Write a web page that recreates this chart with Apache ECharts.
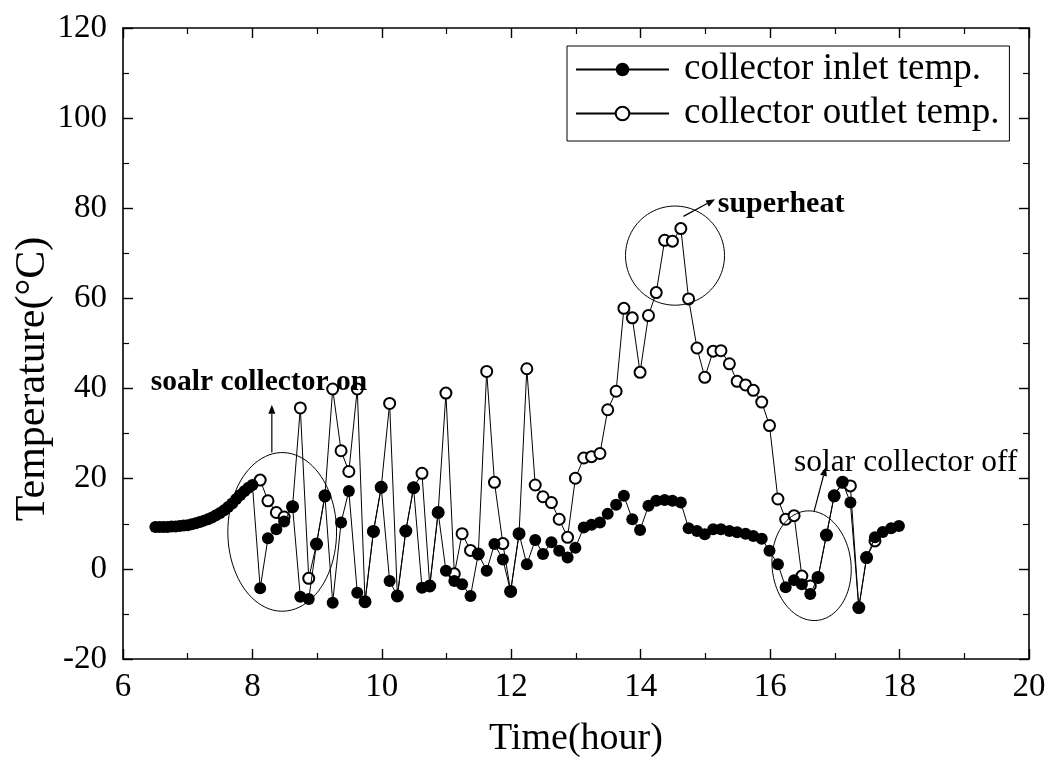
<!DOCTYPE html>
<html>
<head>
<meta charset="utf-8">
<script src="https://cdn.jsdelivr.net/npm/echarts@6/dist/echarts.min.js"></script>
<style>
html,body{margin:0;padding:0;background:#fff;}
#chart{width:1052px;height:757px;}
</style>
</head>
<body>
<div id="chart"></div>
<script>
// ---- data ----
const hours = [
  6.5,6.5625,6.625,6.6875,6.75,6.8125,6.875,6.9375,7.0,7.0625,7.125,7.1875,7.25,
  7.3125,7.375,7.4375,7.5,7.5625,7.625,7.6875,7.75,7.8125,7.875,7.9375,8.0,
  8.12,8.24,8.37,8.49,8.62,8.74,8.87,8.99,
  9.12,9.24,9.37,9.49,9.62,9.74,9.87,9.99,
  10.12,10.24,10.37,10.49,10.62,10.74,10.87,10.99,
  11.12,11.24,11.37,11.49,11.62,11.74,11.87,11.99,
  12.12,12.24,12.37,12.49,12.62,12.74,12.87,12.99,
  13.12,13.24,13.37,13.49,13.62,13.74,13.87,13.99,
  14.12,14.24,14.37,14.49,14.62,14.74,14.87,14.99,
  15.12,15.24,15.37,15.49,15.62,15.74,15.87,15.99,
  16.12,16.24,16.37,16.49,16.62,16.74,16.87,16.99,
  17.12,17.24,17.37,17.49,17.62,17.74,17.87,17.99
];
const inletTemp = [
  9.3,9.3,9.3,9.3,9.4,9.4,9.5,9.6,9.7,9.9,10.1,10.4,10.7,
  11.0,11.4,11.9,12.4,13.0,13.7,14.5,15.5,16.4,17.2,18.0,18.6,
  -4.3,6.8,8.8,10.5,13.8,-6.2,-6.7,5.5,
  16.2,-7.5,10.3,17.3,-5.3,-7.3,8.3,18.1,
  -2.7,-6.0,8.4,18.0,-4.2,-3.8,12.5,-0.4,
  -2.7,-3.4,-6.0,3.3,-0.4,5.5,2.1,-5.0,
  7.8,1.0,6.4,3.3,5.9,4.0,2.5,4.7,
  9.2,9.8,10.3,12.2,14.2,16.2,11.0,8.6,
  14.0,15.1,15.3,15.1,14.7,9.0,8.4,7.7,
  8.8,8.8,8.4,8.1,7.8,7.3,6.7,4.0,
  1.0,-4.1,-2.5,-3.4,-5.6,-1.9,7.5,16.2,
  19.2,14.7,-8.6,2.5,7.0,8.2,9.0,9.5
];
const outletTemp = [
  null,null,null,null,null,null,null,null,null,null,null,null,null,
  null,null,null,null,null,null,null,null,null,null,null,null,
  19.7,15.1,12.5,11.5,13.8,35.7,-2.1,5.5,
  16.2,39.9,26.2,21.6,39.9,-7.3,8.3,18.1,
  36.7,-6.0,8.4,18.0,21.2,-3.8,12.5,39.0,
  -1.1,7.8,4.1,3.3,43.8,19.2,5.6,-5.0,
  7.8,44.4,18.6,16.0,14.7,11.0,7.0,20.1,
  24.6,24.9,25.6,35.3,39.4,57.8,55.7,43.6,
  56.2,61.3,72.9,72.7,75.5,59.9,49.0,42.5,
  48.3,48.4,45.5,41.6,40.8,39.6,37.0,31.8,
  15.5,11.0,11.8,-1.6,-3.8,-1.9,7.5,16.2,
  19.2,18.4,-8.6,2.5,6.2,null,null,null
];
const xTicks = [6, 8, 10, 12, 14, 16, 18, 20];
const yTicks = [-20, 0, 20, 40, 60, 80, 100, 120];
const seriesNames = ['collector inlet temp.', 'collector outlet temp.'];

// ---- chart ----
const FONT = 'Liberation Serif';
const chart = echarts.init(document.getElementById('chart'), null, {renderer: 'canvas'});

const inletData = hours.map((h, i) => [h, inletTemp[i]]);
const outletData = hours.map((h, i) => [h, outletTemp[i]]).filter(p => p[1] !== null);

function baseAxis(show) {
  return {
    axisLine: {show: true, onZero: false, lineStyle: {color: '#000', width: 1.6}},
    axisTick: {show: true, inside: true, length: 10, lineStyle: {color: '#000', width: 1.4}},
    minorTick: {show: true, splitNumber: 2, length: 6, lineStyle: {color: '#000', width: 1.2}},
    splitLine: {show: false},
    axisLabel: {show: show, color: '#000', fontFamily: FONT, fontSize: 33}
  };
}

const option = {
  animation: false,
  backgroundColor: '#fff',
  grid: {left: 123, right: 23, top: 28, bottom: 98, containLabel: false, outerBoundsMode: 'none'},
  xAxis: [
    Object.assign(baseAxis(true), {
      type: 'value', min: xTicks[0], max: xTicks[xTicks.length - 1], interval: 2,
      position: 'bottom',
      name: 'Time(hour)', nameLocation: 'middle', nameGap: 61,
      nameTextStyle: {color: '#000', fontFamily: FONT, fontSize: 38}
    }, {axisLabel: {show: true, color: '#000', fontFamily: FONT, fontSize: 33, margin: 12}}),
    Object.assign(baseAxis(false), {
      type: 'value', min: xTicks[0], max: xTicks[xTicks.length - 1], interval: 2, position: 'top'
    })
  ],
  yAxis: [
    Object.assign(baseAxis(true), {
      type: 'value', min: yTicks[0], max: yTicks[yTicks.length - 1], interval: 20, position: 'left'
    }, {axisLabel: {show: true, color: '#000', fontFamily: FONT, fontSize: 33, margin: 16}}),
    Object.assign(baseAxis(false), {
      type: 'value', min: yTicks[0], max: yTicks[yTicks.length - 1], interval: 20, position: 'right'
    })
  ],
  legend: {
    left: 567, top: 46, orient: 'vertical',
    data: seriesNames,
    itemWidth: 93, itemHeight: 17, itemGap: 7,
    padding: [5, 10, 9, 8],
    borderColor: '#000', borderWidth: 1,
    textStyle: {color: '#000', fontFamily: FONT, fontSize: 37, padding: [0, 0, 0, 10]}
  },
  series: [
    {
      name: seriesNames[1], type: 'line', data: outletData,
      symbol: 'emptyCircle', symbolSize: 11,
      itemStyle: {color: '#000', borderColor: '#000', borderWidth: 1.2},
      lineStyle: {color: '#000', width: 1},
      z: 2
    },
    {
      name: seriesNames[0], type: 'line', data: inletData,
      symbol: 'circle', symbolSize: 12,
      itemStyle: {color: '#000'},
      lineStyle: {color: '#000', width: 1},
      z: 3
    }
  ]
};
chart.setOption(option);

// ---- annotations, positioned in data space ----
function px(x, y) { return chart.convertToPixel({gridIndex: 0}, [x, y]); }
function ellipse(cx, cy, rx, ry, rotDeg) {
  const c = px(cx, cy);
  const a = px(cx + rx, cy)[0] - c[0];
  const b = c[1] - px(cx, cy + ry)[1];
  const r = rotDeg * Math.PI / 180;
  const pts = [];
  for (let i = 0; i <= 90; i++) {
    const t = i / 90 * Math.PI * 2;
    const ex = a * Math.cos(t), ey = b * Math.sin(t);
    pts.push([c[0] + ex * Math.cos(r) - ey * Math.sin(r), c[1] + ex * Math.sin(r) + ey * Math.cos(r)]);
  }
  return {type: 'polyline', shape: {points: pts}, style: {stroke: '#000', lineWidth: 1, fill: null}, silent: true, z: 10};
}
function arrow(x1, y1, x2, y2) {
  const p1 = px(x1, y1), p2 = px(x2, y2);
  const ang = Math.atan2(p2[1] - p1[1], p2[0] - p1[0]);
  const L = 9, W = 3.5;
  const bx = p2[0] - L * Math.cos(ang), by = p2[1] - L * Math.sin(ang);
  const head = [
    p2,
    [bx + W * Math.sin(ang), by - W * Math.cos(ang)],
    [bx - W * Math.sin(ang), by + W * Math.cos(ang)]
  ];
  return [
    {type: 'line', shape: {x1: p1[0], y1: p1[1], x2: bx, y2: by}, style: {stroke: '#000', lineWidth: 1.2}, silent: true, z: 10},
    {type: 'polygon', shape: {points: head}, style: {fill: '#000'}, silent: true, z: 10}
  ];
}
function label(x, y, text, size, weight) {
  const p = px(x, y);
  return {type: 'text', x: p[0], y: p[1], z: 10, silent: true,
    style: {text: text, fill: '#000', font: weight + ' ' + size + 'px "' + FONT + '"', textAlign: 'left', textVerticalAlign: 'middle'}};
}

const graphics = [];
graphics.push(ellipse(8.46, 8.2, 0.84, 17.6, 0));
graphics.push(...arrow(8.30, 25.8, 8.30, 36.4));
graphics.push(label(6.43, 41.3, 'soalr collector on', 29.5, 'bold'));
graphics.push(ellipse(14.53, 69.5, 0.765, 11.0, 0));
graphics.push(...arrow(14.66, 78.2, 15.15, 82.0));
graphics.push(label(15.19, 80.9, 'superheat', 30, 'bold'));
graphics.push(ellipse(16.64, 0.7, 0.61, 12.2, -6));
graphics.push(...arrow(16.68, 12.8, 16.86, 22.6));
graphics.push(label(16.37, 23.5, 'solar collector off', 31.5, 'normal'));
// y-axis title
graphics.push({type: 'text', x: 33, y: 379, rotation: Math.PI / 2, silent: true, z: 10,
  style: {text: 'Temperature(°C)', fill: '#000', font: 'normal 42px "' + FONT + '"', textAlign: 'center', textVerticalAlign: 'middle'}});

chart.setOption({graphic: graphics});
</script>
</body>
</html>
